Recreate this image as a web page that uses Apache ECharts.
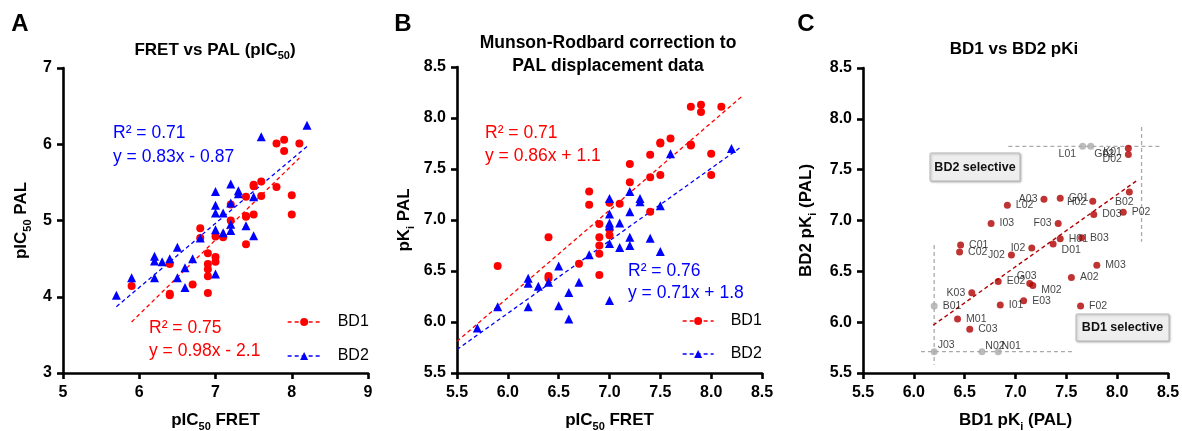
<!DOCTYPE html>
<html><head><meta charset="utf-8">
<script src="https://cdn.jsdelivr.net/npm/echarts@6/dist/echarts.min.js"></script>
<style>html,body{margin:0;padding:0;background:#fff}#c{width:1182px;height:431px}</style>
</head><body><div id="c"></div>
<script>
// ---------- Panel A: pIC50 FRET vs pIC50 PAL ----------
const aBD1 = [[5.9,4.14],[6.4,4.04],[6.4,4.02],[6.4,4.43],[6.7,4.16],[6.8,4.77],[6.8,4.90],[6.9,4.57],[6.9,4.43],[6.9,4.36],[6.9,4.27],[6.9,4.05],[7.0,4.79],[7.0,4.52],[7.0,4.46],[7.1,4.78],[7.2,5.21],[7.2,5.00],[7.4,5.31],[7.4,5.06],[7.4,5.05],[7.4,4.69],[7.5,5.47],[7.5,5.45],[7.5,5.08],[7.6,5.51],[7.6,5.32],[7.8,6.01],[7.8,5.44],[7.9,6.06],[7.9,5.91],[8.0,5.33],[8.0,5.08],[8.1,6.01]];
const aBD2 = [[5.7,4.02],[5.9,4.25],[6.2,4.53],[6.2,4.47],[6.2,4.25],[6.3,4.46],[6.4,4.50],[6.5,4.65],[6.5,4.25],[6.6,4.38],[6.6,4.12],[6.7,4.50],[6.8,4.77],[7.0,5.38],[7.0,5.20],[7.0,5.10],[7.0,4.88],[7.0,4.30],[7.1,5.10],[7.1,4.84],[7.2,5.48],[7.2,5.23],[7.2,4.95],[7.2,4.87],[7.3,5.39],[7.3,5.35],[7.4,4.93],[7.5,5.31],[7.5,4.80],[7.6,6.10],[8.2,6.25]];
const aFitBD1 = [[5.9,3.67],[8.1,5.82]];
const aFitBD2 = [[5.7,3.87],[8.2,5.97]];

// ---------- Panel B: Munson-Rodbard corrected pKi ----------
const bBD1 = [[5.9,6.55],[6.4,6.83],[6.4,6.45],[6.4,6.43],[6.7,6.57],[6.8,7.28],[6.8,7.15],[6.9,6.96],[6.9,6.83],[6.9,6.75],[6.9,6.67],[6.9,6.46],[7.0,7.17],[7.0,6.91],[7.0,6.85],[7.1,7.16],[7.2,7.55],[7.2,7.37],[7.4,7.64],[7.4,7.42],[7.4,7.08],[7.5,7.76],[7.5,7.75],[7.5,7.44],[7.6,7.80],[7.8,8.11],[7.8,7.74],[7.8,7.73],[7.9,8.13],[7.9,8.06],[8.0,7.65],[8.0,7.44],[8.1,8.11]];
const bBD2 = [[5.7,5.94],[5.9,6.15],[6.2,6.43],[6.2,6.38],[6.2,6.15],[6.3,6.35],[6.4,6.39],[6.5,6.55],[6.5,6.16],[6.6,6.29],[6.6,6.03],[6.7,6.39],[6.8,6.66],[7.0,7.21],[7.0,7.06],[7.0,6.97],[7.0,6.94],[7.0,6.77],[7.0,6.21],[7.1,6.97],[7.1,6.73],[7.2,7.28],[7.2,7.08],[7.2,6.83],[7.2,6.75],[7.3,7.21],[7.3,7.18],[7.4,6.82],[7.5,7.14],[7.5,6.69],[7.6,7.65],[8.2,7.70]];
const bFitBD1 = [[5.5,5.81],[8.3,8.21]];
const bFitBD2 = [[5.5,5.73],[8.3,7.72]];

// ---------- Panel C: BD1 vs BD2 pKi ----------
const cNames = ['K01','D02','B02','P02','D03','H02','G01','A03','L02','I03','F03','H01','B03','D01','I02','J02','C01','C02','M03','A02','G03','M02','E02','K03','I01','E03','F02','M01','C03'];
const cBD1 =   [8.11,8.11,8.12,8.06,7.77,7.76,7.44,7.28,6.92,6.76,7.42,7.44,7.65,7.37,7.16,6.96,6.46,6.45,7.80,7.55,7.14,7.17,6.83,6.57,6.85,7.08,7.64,6.43,6.55];
const cBD2 =   [7.71,7.65,7.28,7.08,7.06,7.19,7.22,7.21,7.15,6.97,6.97,6.82,6.83,6.77,6.73,6.66,6.76,6.69,6.56,6.44,6.38,6.36,6.40,6.29,6.17,6.21,6.16,6.03,5.93];
const cLimNames = ['L01','G02','B01','J03','N02','N01'];
const cLimBD1 =   [7.66,7.74,6.20,6.20,6.67,6.83];
const cLimBD2 =   [7.73,7.73,6.16,5.71,5.71,5.71];
const cFit = [[6.19,5.97],[8.19,7.39]];
const cLimitLines = [
  [[6.93,7.73],[8.43,7.73]],
  [[8.24,7.92],[8.24,6.79]],
  [[6.20,6.76],[6.20,5.58]],
  [[6.07,5.71],[7.57,5.71]]
];

// ---------- styling ----------
const FONT = 'Arial, "Liberation Sans", Helvetica, sans-serif';
const RED = '#ff0000', BLUE = '#0000ff', DRED = '#b00000', GREY = '#aaaaaa';
const subRich = {
  n: {fontSize: 17, fontWeight: 'bold', fontFamily: FONT, color: '#000', lineHeight: 23},
  s: {fontSize: 11, fontWeight: 'bold', fontFamily: FONT, color: '#000', verticalAlign: 'bottom', lineHeight: 11}
};
// label placement per compound name: [position, dx, dy, distance]
const cLabelPlace = {
  K01:['left',0,4,3], D02:['left',0,5,3], L01:['left',0,8,3], G02:['right',-5,8,5],
  H02:['left',0,1,3], B02:['bottom',-5,-4,5], D01:['right',0,6,5], G03:['top',-3,7,5],
  M02:['right',0,5,5], J03:['top',12,7,5], N02:['top',13,8,5], N01:['top',13,8,5],
  A03:['left',0,0,3], F03:['left',0,0,3], I02:['left',0,0,3], J02:['left',0,0,3], K03:['left',0,0,3]
};
function placeLabel(n) {
  const p = cLabelPlace[n] || ['right',0,0,5];
  return {position: p[0], offset: [p[1], p[2]], distance: p[3]};
}

function axis(gi, min, max, interval, dec, name, nameGap, isY, labelMargin) {
  return {
    type: 'value', gridIndex: gi, min: min, max: max, interval: interval,
    name: name, nameLocation: 'middle', nameGap: nameGap, nameRotate: isY ? 90 : 0,
    nameTextStyle: {rich: subRich, fontSize: 17, fontWeight: 'bold', fontFamily: FONT, color: '#000'},
    axisLine: {show: true, onZero: false, lineStyle: {color: '#000', width: 2.6}},
    axisTick: {show: true, length: 6, lineStyle: {color: '#000', width: 2.6}},
    axisLabel: {fontSize: 16, fontWeight: 'bold', fontFamily: FONT, color: '#000', margin: labelMargin,
      formatter: v => v.toFixed(dec)},
    splitLine: {show: false}
  };
}

function fitLine(name, data, gi, color) {
  return {type: 'line', name: name, xAxisIndex: gi, yAxisIndex: gi, data: data,
    symbol: name === 'BD1' ? 'circle' : 'triangle', symbolSize: 9, showSymbol: false,
    lineStyle: {color: color, width: 1.3, type: [4, 3]}, itemStyle: {color: color},
    silent: true, z: 1, animation: false};
}
function scat(name, data, gi, color, sym, size) {
  return {type: 'scatter', name: name, xAxisIndex: gi, yAxisIndex: gi, data: data,
    symbol: sym, symbolSize: size, itemStyle: {color: color, opacity: 1}, z: 3, animation: false};
}

const series = [
  fitLine('BD1', aFitBD1, 0, RED), fitLine('BD2', aFitBD2, 0, BLUE),
  scat('BD1', aBD1, 0, RED, 'circle', 8), scat('BD2', aBD2, 0, BLUE, 'triangle', 9),
  fitLine('BD1', bFitBD1, 1, RED), fitLine('BD2', bFitBD2, 1, BLUE),
  scat('BD1', bBD1, 1, RED, 'circle', 8), scat('BD2', bBD2, 1, BLUE, 'triangle', 9)
];
cLimitLines.forEach((seg, i) => series.push({
  type: 'line', name: 'limit' + i, xAxisIndex: 2, yAxisIndex: 2, data: seg, symbol: 'none',
  lineStyle: {color: GREY, width: 1.3, type: [4, 3]}, silent: true, z: 1, animation: false
}));
series.push({type: 'line', name: 'C fit', xAxisIndex: 2, yAxisIndex: 2, data: cFit, symbol: 'none',
  lineStyle: {color: DRED, width: 1.4, type: [4, 3]}, silent: true, z: 2, animation: false});
const cLabelStyle = {show: true, formatter: '{b}', fontSize: 10.5, fontFamily: FONT, color: '#111'};
series.push({type: 'scatter', name: 'C grey', xAxisIndex: 2, yAxisIndex: 2, symbol: 'circle', symbolSize: 7,
  itemStyle: {color: GREY}, label: cLabelStyle, z: 3, animation: false,
  data: cLimNames.map((n, i) => ({name: n, value: [cLimBD1[i], cLimBD2[i]], label: placeLabel(n)}))});
series.push({type: 'scatter', name: 'C pts', xAxisIndex: 2, yAxisIndex: 2, symbol: 'circle', symbolSize: 7,
  itemStyle: {color: DRED}, label: cLabelStyle, z: 4, animation: false,
  data: cNames.map((n, i) => ({name: n, value: [cBD1[i], cBD2[i]], label: placeLabel(n)}))});

function txt(x, y, text, opts) {
  return {type: 'text', x: x, y: y, silent: true, z: 10, style: Object.assign({
    text: text, fill: '#000', fontFamily: FONT, fontSize: 17, fontWeight: 'bold',
    align: 'center', verticalAlign: 'middle'}, opts || {})};
}
function richTxt(x, y, text) {
  return {type: 'text', x: x, y: y, silent: true, z: 10, style: {
    text: text, rich: subRich, align: 'center', verticalAlign: 'middle', fill: '#000'}};
}
function box(x, y, w, h, label) {
  return {type: 'group', x: x, y: y, z: 10, silent: true, children: [
    {type: 'rect', shape: {x: 0, y: 0, width: w, height: h, r: 1},
      style: {fill: '#eeeeee', stroke: '#b8b8b8', lineWidth: 1, shadowBlur: 2, shadowOffsetX: 1, shadowOffsetY: 1, shadowColor: 'rgba(0,0,0,0.25)'}},
    {type: 'text', style: {x: w / 2, y: h / 2 + 0.5, text: label, fill: '#111', fontFamily: FONT, fontSize: 12.5, fontWeight: 'bold', align: 'center', verticalAlign: 'middle'}}
  ]};
}
const annA = {fontWeight: 'normal', fontSize: 17.5, align: 'left'};

const option = {
  backgroundColor: '#fff',
  animation: false,
  grid: [
    {left: 63, top: 68, width: 305, height: 305, outerBoundsMode: 'none', containLabel: false},
    {left: 457, top: 67, width: 305, height: 306, outerBoundsMode: 'none', containLabel: false},
    {left: 863, top: 68, width: 305, height: 305, outerBoundsMode: 'none', containLabel: false}
  ],
  xAxis: [
    axis(0, 5, 9, 1, 0, '{n|pIC}{s|50}{n| FRET}', 36, false, 12),
    axis(1, 5.5, 8.5, 0.5, 1, '{n|pIC}{s|50}{n| FRET}', 36, false, 12),
    axis(2, 5.5, 8.5, 0.5, 1, '{n|BD1 pK}{s|i}{n| (PAL)}', 36, false, 12)
  ],
  yAxis: [
    axis(0, 3, 7, 1, 0, '{n|pIC}{s|50}{n| PAL}', 30, true, 11),
    axis(1, 5.5, 8.5, 0.5, 1, '{n|pK}{s|i}{n| PAL}', 41, true, 11),
    axis(2, 5.5, 8.5, 0.5, 1, '{n|BD2 pK}{s|i}{n| (PAL)}', 45, true, 11)
  ],
  legend: [
    {left: 282, top: 309, orient: 'vertical', itemWidth: 33, itemHeight: 10, itemGap: 18, selectedMode: false,
      data: ['BD1', 'BD2'], lineStyle: {width: 1.3},
      textStyle: {fontSize: 16, color: '#000', fontFamily: FONT, padding: [0, 0, 0, 12]}},
    {left: 677, top: 308, orient: 'vertical', itemWidth: 31, itemHeight: 10, itemGap: 17, selectedMode: false,
      data: ['BD1', 'BD2'], lineStyle: {width: 1.3},
      textStyle: {fontSize: 16, color: '#000', fontFamily: FONT, padding: [0, 0, 0, 12]}}
  ],
  graphic: [
    txt(20, 24, 'A', {fontSize: 24}), txt(403, 24, 'B', {fontSize: 24}), txt(806, 24, 'C', {fontSize: 24}),
    richTxt(215, 50, '{n|FRET vs PAL (pIC}{s|50}{n|)}'),
    txt(608, 43, 'Munson-Rodbard correction to', {fontSize: 17.5}),
    txt(608, 66, 'PAL displacement data', {fontSize: 17.5}),
    txt(1014, 49, 'BD1 vs BD2 pKi'),
    txt(113, 133, 'R² = 0.71', Object.assign({fill: BLUE}, annA)),
    txt(113, 157, 'y = 0.83x - 0.87', Object.assign({fill: BLUE}, annA)),
    txt(149, 328, 'R² = 0.75', Object.assign({fill: RED}, annA)),
    txt(149, 351, 'y = 0.98x - 2.1', Object.assign({fill: RED}, annA)),
    txt(485, 133, 'R² = 0.71', Object.assign({fill: RED}, annA)),
    txt(485, 156, 'y = 0.86x + 1.1', Object.assign({fill: RED}, annA)),
    txt(628, 271, 'R² = 0.76', Object.assign({fill: BLUE}, annA)),
    txt(628, 293, 'y = 0.71x + 1.8', Object.assign({fill: BLUE}, annA)),
    box(930, 153, 90, 28, 'BD2 selective'),
    box(1076, 314, 93, 27, 'BD1 selective')
  ],
  series: series
};
const chart = echarts.init(document.getElementById('c'), null, {renderer: 'canvas'});
chart.setOption(option);
</script></body></html>
